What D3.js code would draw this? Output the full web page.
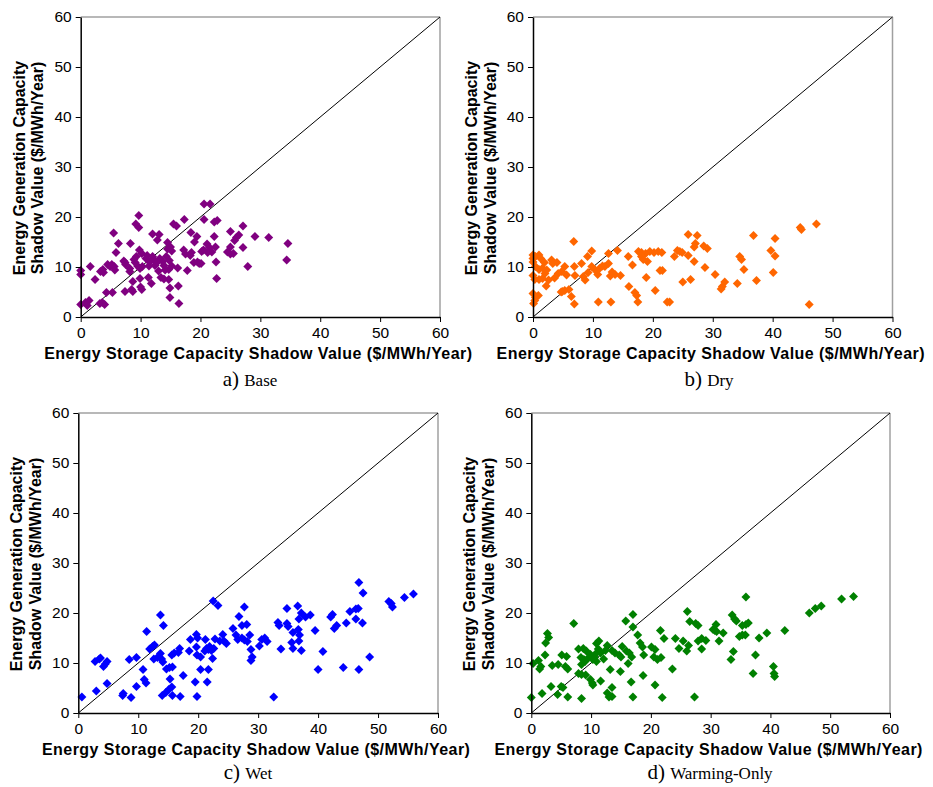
<!DOCTYPE html>
<html><head><meta charset="utf-8">
<script src="https://cdn.jsdelivr.net/npm/d3@7"></script>
<style>body{margin:0;background:#fff}svg{display:block}</style>
</head><body>
<svg id="c" width="933" height="787"></svg>
<script>
const ticks = [0,10,20,30,40,50,60];
const xTitle = "Energy Storage Capacity Shadow Value ($/MWh/Year)";
const yTitle1 = "Energy Generation Capacity";
const yTitle2 = "Shadow Value ($/MWh/Year)";

const basePoints = [[20.6,22.6],[21.6,22.6],[9.7,20.3],[9.2,18.6],[9.7,17.9],[17.3,19.5],[15.5,18.6],[16.0,18.2],[20.6,19.5],[22.3,19.0],[22.8,19.3],[27.1,18.2],[5.5,16.8],[12.0,16.6],[13.1,16.5],[12.8,15.4],[18.4,16.9],[19.4,16.1],[19.0,15.0],[21.1,14.6],[22.3,16.1],[25.0,17.1],[26.0,15.9],[26.4,16.4],[25.7,15.3],[29.1,16.1],[31.4,15.9],[34.6,14.7],[34.4,11.4],[6.3,14.7],[8.3,14.7],[14.5,14.9],[5.9,12.9],[9.8,13.4],[8.9,11.5],[9.3,12.1],[14.5,13.6],[15.0,14.0],[15.2,13.2],[17.2,13.4],[17.5,12.6],[18.5,12.9],[18.3,12.3],[19.5,11.0],[19.8,10.7],[18.9,10.9],[20.2,13.1],[20.5,13.4],[21.2,12.9],[21.5,13.9],[21.9,13.0],[22.5,14.0],[24.5,13.0],[25.0,14.0],[25.5,12.7],[25.0,12.6],[27.1,13.9],[27.9,10.1],[22.6,11.0],[22.7,7.7],[20.1,10.7],[17.8,9.3],[16.2,9.8],[15.2,10.2],[14.7,9.5],[13.0,9.2],[13.4,7.9],[13.9,7.6],[14.7,7.5],[14.9,5.8],[16.3,6.2],[14.9,3.9],[16.4,2.7],[11.8,6.7],[11.3,7.9],[9.9,7.7],[10.0,6.0],[10.2,5.5],[8.7,7.1],[8.7,5.1],[8.5,5.5],[7.4,5.1],[8.2,9.1],[4.3,4.9],[5.3,4.9],[3.2,2.7],[4.0,2.5],[3.6,2.9],[0.0,2.5],[0.8,2.9],[1.4,3.3],[1.1,2.3],[0.0,9.3],[0.0,8.5],[1.6,10.1],[2.4,7.5],[3.3,9.1],[3.8,8.9],[3.7,9.5],[4.5,10.5],[4.9,10.1],[5.2,10.5],[5.7,9.4],[5.6,10.1],[7.2,11.2],[7.5,10.5],[7.4,10.9],[8.2,9.7],[9.1,10.9],[9.5,10.2],[9.9,9.7],[10.3,10.1],[10.9,11.7],[11.5,11.0],[11.4,10.2],[12.2,11.5],[12.4,10.3],[12.8,11.0],[13.2,11.7],[13.7,11.1],[13.9,10.3],[14.3,12.1],[14.8,11.3],[14.1,9.4],[10.2,12.7],[11.1,12.3],[12.0,12.1]];

const dryPoints = [[47.3,18.6],[44.6,17.9],[44.8,17.5],[36.8,16.3],[40.4,15.7],[25.9,16.5],[27.4,16.3],[27.1,14.7],[26.9,14.0],[28.5,14.2],[29.1,13.7],[6.8,15.1],[39.7,13.3],[40.4,12.2],[34.5,12.1],[34.8,11.5],[35.2,9.5],[40.1,8.9],[37.3,7.3],[34.1,6.7],[32.0,7.0],[31.6,6.1],[31.4,5.6],[30.4,8.5],[28.7,9.9],[26.9,11.1],[26.3,7.5],[25.0,7.0],[23.6,12.1],[24.1,13.3],[24.5,13.1],[24.9,12.9],[25.9,12.3],[21.5,12.9],[20.9,13.1],[20.2,12.9],[19.5,13.1],[18.8,12.7],[18.1,12.9],[17.6,13.1],[18.1,12.1],[19.1,11.1],[18.4,11.5],[15.9,12.1],[16.6,10.4],[21.2,9.3],[21.6,9.3],[18.9,7.9],[20.4,5.3],[16.0,6.1],[17.0,4.9],[17.3,4.3],[17.5,3.0],[22.4,3.0],[22.8,3.0],[13.0,3.0],[10.9,3.0],[6.9,2.6],[6.4,4.1],[6.0,5.5],[5.3,5.3],[4.7,5.0],[4.9,5.1],[14.6,8.3],[14.1,13.3],[12.6,12.7],[12.6,10.7],[12.0,10.1],[13.2,9.0],[12.9,8.2],[13.7,8.5],[9.8,13.2],[9.1,12.1],[8.1,10.7],[9.8,10.1],[10.3,9.5],[10.8,8.5],[9.2,8.9],[8.7,7.4],[8.4,8.1],[11.1,9.7],[11.6,10.2],[6.9,10.1],[7.0,8.3],[5.3,10.1],[5.6,8.4],[4.8,9.1],[4.2,8.7],[3.6,7.8],[3.3,10.7],[4.0,10.9],[3.1,11.4],[2.3,9.4],[2.0,8.7],[2.6,7.4],[2.2,6.2],[0.0,12.4],[0.4,12.1],[1.0,12.4],[0.0,11.0],[0.4,10.1],[1.0,9.5],[1.6,9.8],[0.0,8.3],[0.3,7.5],[1.0,7.5],[1.6,7.7],[0.0,11.7],[1.3,11.7],[1.9,10.9],[0.0,4.7],[0.4,3.9],[0.9,4.3],[0.1,2.7],[0.3,3.3],[46.1,2.5]];

const wetPoints = [[0.6,3.2],[3.0,4.4],[2.8,10.3],[3.5,10.8],[3.7,11.0],[4.2,9.3],[4.5,9.8],[4.8,10.3],[4.8,5.9],[7.5,3.9],[7.4,3.5],[8.8,3.1],[8.5,10.7],[9.7,11.1],[9.7,5.3],[10.8,8.7],[11.0,6.7],[11.3,6.0],[11.4,16.3],[11.9,12.8],[12.4,13.3],[12.7,13.6],[13.7,19.6],[14.2,17.5],[12.6,10.8],[13.2,11.1],[13.7,11.9],[13.9,10.8],[14.1,10.2],[14.7,8.8],[15.2,9.1],[15.7,9.2],[15.3,6.8],[15.6,5.2],[15.1,4.7],[14.6,4.1],[14.0,3.5],[15.7,3.5],[17.0,3.3],[15.6,11.6],[16.0,12.0],[16.7,12.1],[16.9,12.9],[17.5,7.5],[18.5,12.4],[18.7,14.7],[19.5,6.2],[19.8,3.3],[19.7,15.7],[19.9,15.0],[19.7,13.2],[19.8,11.6],[20.4,11.2],[20.4,8.7],[21.2,14.7],[21.1,12.4],[21.4,12.9],[21.7,12.7],[21.9,13.3],[22.2,12.5],[22.6,12.9],[22.8,14.8],[22.4,10.9],[21.5,6.2],[21.7,8.7],[22.5,22.4],[23.3,21.5],[24.1,15.7],[24.3,14.4],[24.7,13.9],[23.6,14.4],[25.8,16.9],[26.8,19.3],[27.7,21.2],[27.3,17.5],[28.1,17.7],[26.3,15.6],[26.6,14.7],[27.3,15.0],[27.7,14.6],[28.2,14.3],[28.6,15.6],[28.8,12.7],[29.0,11.2],[28.8,10.5],[30.2,13.4],[30.6,14.7],[31.1,15.0],[31.5,14.3],[46.8,26.1],[47.5,24.0],[55.9,23.8],[54.4,23.1],[51.8,22.3],[52.2,21.9],[52.4,21.2],[34.8,20.9],[36.6,21.4],[37.2,20.0],[36.8,18.8],[37.9,19.2],[38.7,19.6],[33.3,18.1],[33.5,17.5],[34.8,17.9],[35.0,17.3],[35.8,16.1],[36.7,16.7],[36.9,15.6],[36.8,14.4],[35.6,14.1],[35.8,12.9],[37.2,12.5],[33.8,12.8],[39.5,16.5],[40.8,12.3],[42.1,19.2],[42.4,19.7],[42.7,16.9],[43.1,17.5],[44.7,18.0],[45.3,20.3],[46.3,20.8],[46.7,20.9],[46.3,18.8],[47.4,18.0],[40.0,8.7],[44.2,9.1],[46.8,8.7],[48.6,11.2],[32.6,3.2]];

const warmPoints = [[0.0,3.1],[0.3,9.9],[1.2,10.5],[1.6,9.3],[1.4,8.8],[2.3,11.6],[2.4,14.0],[2.7,15.9],[2.9,15.1],[1.8,3.9],[3.3,5.3],[4.4,3.7],[5.0,5.3],[5.3,5.1],[6.1,3.2],[3.5,9.5],[4.5,9.7],[5.1,11.6],[5.9,11.3],[5.7,9.3],[6.1,8.8],[7.1,17.9],[7.9,12.8],[8.7,12.9],[9.2,12.4],[8.3,11.1],[8.8,10.7],[9.0,10.3],[8.4,9.7],[7.9,7.9],[8.4,7.7],[9.1,7.6],[8.4,2.9],[9.9,6.7],[10.2,6.0],[10.3,5.6],[9.6,11.1],[9.9,11.7],[10.3,10.7],[10.6,11.1],[10.9,10.3],[10.9,12.0],[10.9,13.9],[11.3,14.4],[11.2,12.8],[11.6,12.0],[12.1,10.8],[12.4,12.5],[12.7,13.5],[11.6,6.4],[13.2,8.7],[13.5,5.1],[12.7,4.0],[13.0,3.2],[13.5,3.3],[13.5,12.5],[14.0,12.0],[14.7,11.6],[15.2,13.3],[15.0,11.2],[14.9,8.3],[15.8,18.4],[17.0,19.7],[17.0,17.2],[15.9,12.4],[16.4,12.0],[16.8,11.2],[16.2,9.9],[16.7,6.2],[17.0,3.2],[17.8,15.6],[18.2,14.0],[18.6,13.2],[18.8,11.6],[18.7,7.5],[20.1,13.2],[20.7,12.7],[20.5,11.2],[21.1,10.7],[21.7,11.1],[20.7,5.6],[21.9,3.1],[21.6,16.5],[22.2,14.9],[23.6,8.8],[24.1,14.9],[24.7,12.9],[25.4,14.4],[26.0,12.4],[26.3,13.5],[26.1,20.3],[26.5,18.3],[27.5,17.9],[27.9,17.5],[27.3,3.2],[27.9,14.4],[28.5,14.9],[29.2,14.5],[28.5,12.8],[30.4,16.7],[35.9,23.2],[30.9,17.7],[30.7,16.5],[31.0,16.3],[31.4,14.4],[32.1,16.0],[33.6,19.6],[34.0,18.8],[34.3,18.4],[35.3,17.5],[35.9,17.7],[36.3,18.0],[34.8,15.3],[35.3,15.6],[35.8,15.6],[33.8,12.3],[33.4,10.7],[37.5,11.6],[37.1,7.9],[38.1,15.0],[39.4,16.0],[40.5,9.3],[40.6,7.9],[40.7,7.3],[42.4,16.5],[46.5,20.0],[47.5,20.9],[48.5,21.4],[51.9,22.8],[53.9,23.3]];

const series = [basePoints, dryPoints, wetPoints, warmPoints];
const colors = ["#800080", "#ff6600", "#0000ff", "#008000"];
const captionLetters = ["a)", "b)", "c)", "d)"];
const captionNames = ["Base", "Dry", "Wet", "Warming-Only"];

const layout = [
  {x0:80.7, x1:440, y0:317, y1:17, cx:250, capDy:69},
  {x0:533, x1:892.5, y0:317, y1:17, cx:709, capDy:69},
  {x0:78.3, x1:438, y0:713, y1:413, cx:248, capDy:66},
  {x0:531.3, x1:890, y0:713, y1:413, cx:710, capDy:66}
];

const svg = d3.select("#c");
const sans = "Arial, 'Liberation Sans', sans-serif";
const serif = "'Times New Roman', 'Liberation Serif', serif";
const diamond = d3.symbol().type(d3.symbolSquare).size(40)();

series.forEach((pts, i) => {
  const L = layout[i];
  const x = d3.scaleLinear().domain([0,60]).range([L.x0, L.x1]);
  const y = d3.scaleLinear().domain([0,60]).range([L.y0, L.y1]);
  const g = svg.append("g");

  g.append("line").attr("x1", L.x0).attr("x2", L.x1).attr("y1", L.y1).attr("y2", L.y1)
    .attr("stroke", "#a0a0a0").attr("stroke-width", 1.5);
  g.append("line").attr("x1", L.x1).attr("x2", L.x1).attr("y1", L.y1).attr("y2", L.y0)
    .attr("stroke", "#a0a0a0").attr("stroke-width", 1.5);

  g.append("line").attr("x1", x(0)).attr("y1", y(0)).attr("x2", x(60)).attr("y2", y(60))
    .attr("stroke", "#000").attr("stroke-width", 1);

  g.append("g").selectAll("path").data(pts).join("path")
    .attr("d", diamond)
    .attr("transform", d => `translate(${x(d[0])},${y(d[1])}) rotate(45)`)
    .attr("fill", colors[i]);

  const xa = g.append("g").attr("transform", `translate(0,${L.y0})`)
    .call(d3.axisBottom(x).tickValues(ticks).tickSize(5).tickSizeOuter(0).tickPadding(4));
  const ya = g.append("g").attr("transform", `translate(${L.x0},0)`)
    .call(d3.axisLeft(y).tickValues(ticks).tickSize(5).tickSizeOuter(0).tickPadding(4));
  [xa, ya].forEach(a => {
    a.select(".domain").attr("stroke", "#000").attr("stroke-width", 1.5);
    a.selectAll(".tick line").attr("stroke", "#000").attr("stroke-width", 1);
    a.selectAll(".tick text").attr("font-family", sans).attr("font-size", 15.5).attr("fill", "#000");
  });
  xa.selectAll(".tick text").attr("dy", null).attr("y", 21);

  g.append("text").attr("x", (L.x0 + L.x1)/2 - 2).attr("y", L.y0 + 42)
    .attr("text-anchor", "middle").attr("font-family", sans).attr("font-weight", "bold")
    .attr("font-size", 16).attr("letter-spacing", 0.45).text(xTitle);
  const cy = (L.y0 + L.y1)/2 + 1;
  [[yTitle1, L.x0 - 56], [yTitle2, L.x0 - 37.5]].forEach(([t, xx]) => {
    g.append("text").attr("transform", `translate(${xx},${cy}) rotate(-90)`)
      .attr("text-anchor", "middle").attr("font-family", sans).attr("font-weight", "bold")
      .attr("font-size", 16).text(t);
  });

  const cap = g.append("text").attr("x", L.cx).attr("y", L.y0 + L.capDy)
    .attr("text-anchor", "middle").attr("font-family", serif);
  cap.append("tspan").attr("font-size", 21).text(captionLetters[i] + " ");
  cap.append("tspan").attr("font-size", 17).text(captionNames[i]);
});
</script>
</body></html>
